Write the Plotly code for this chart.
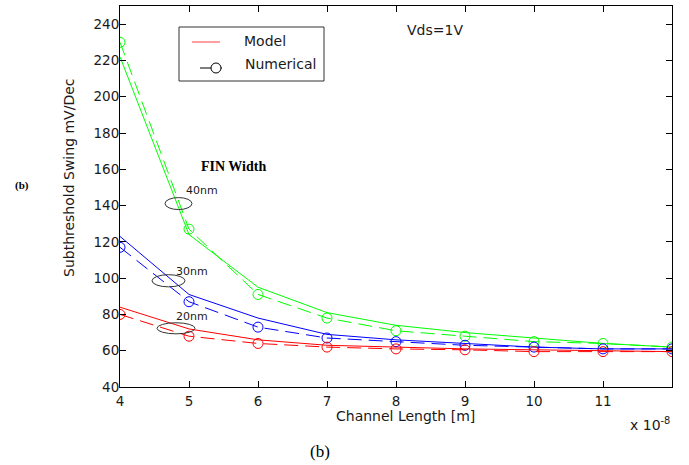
import plotly.graph_objects as go

# Channel length in units of 1e-8 m
channel_length = [4, 5, 6, 7, 8, 9, 10, 11, 12]

# Subthreshold swing (mV/Dec) for each fin width
model_40nm = [222, 124, 95, 81, 74, 70, 67, 64, 62]
numerical_40nm = [230, 127, 91, 78, 71, 68, 65, 64, 62]
model_30nm = [123, 91, 78, 69, 66, 64, 62, 61, 61]
numerical_30nm = [117, 87, 73, 67, 65, 63, 62, 61, 61]
model_20nm = [84, 72, 66, 63, 62, 61, 60.5, 60, 59.5]
numerical_20nm = [80, 68, 64, 62, 61, 60.5, 59.5, 59.5, 59.5]

x_ticks = [4, 5, 6, 7, 8, 9, 10, 11]
y_ticks = [40, 60, 80, 100, 120, 140, 160, 180, 200, 220, 240]

W, H = 689, 465
ML, MR, MT, MB = 120, 17, 6, 78
PW, PH = W - ML - MR, H - MT - MB


def px(xp):
    return (xp - ML) / PW


def py(yp):
    return (H - MB - yp) / PH


FONT = "DejaVu Sans"
TXT = "#1a1a1a"

fig = go.Figure()

series = [
    ("#00ff00", model_40nm, numerical_40nm),
    ("#0000ff", model_30nm, numerical_30nm),
    ("#ff0000", model_20nm, numerical_20nm),
]
for color, model, numerical in series:
    fig.add_trace(go.Scatter(
        x=channel_length, y=model, mode="lines",
        line=dict(color=color, width=1), showlegend=False,
    ))
    fig.add_trace(go.Scatter(
        x=channel_length, y=numerical, mode="lines+markers",
        line=dict(color=color, width=1, dash="14px,7px"),
        marker=dict(symbol="circle-open", size=10, color=color,
                    line=dict(width=1, color=color)),
        showlegend=False,
    ))

shapes = []
# ellipses marking each fin-width family
for x0, x1, y0, y1 in [(4.652, 5.043, 137.8, 144.4),
                       (4.464, 4.942, 95.2, 101.9),
                       (4.536, 5.087, 69.3, 75.4)]:
    shapes.append(dict(type="circle", xref="x", yref="y", x0=x0, x1=x1,
                       y0=y0, y1=y1, line=dict(color="#333333", width=1)))

# legend box and glyphs
shapes.append(dict(type="rect", xref="paper", yref="paper",
                   x0=px(179), x1=px(324), y0=py(81), y1=py(27),
                   line=dict(color="#333333", width=1), fillcolor="white"))
shapes.append(dict(type="line", xref="paper", yref="paper",
                   x0=px(192), x1=px(220), y0=py(42), y1=py(42),
                   line=dict(color="#ff4040", width=1)))
shapes.append(dict(type="line", xref="paper", yref="paper",
                   x0=px(200), x1=px(222), y0=py(68), y1=py(68),
                   line=dict(color="black", width=1)))
shapes.append(dict(type="circle", xref="paper", yref="paper",
                   x0=px(211), x1=px(221), y0=py(73), y1=py(63),
                   line=dict(color="black", width=1), fillcolor="white"))

annotations = [
    dict(x=px(242), y=py(41), text="Model", xanchor="left", yanchor="middle"),
    dict(x=px(243), y=py(64), text="Numerical", xanchor="left", yanchor="middle"),
    dict(x=px(435), y=py(30), text="Vds=1V", xanchor="center", yanchor="middle"),
    dict(x=px(202), y=py(191), text="40nm", font=dict(size=11)),
    dict(x=px(192), y=py(271), text="30nm", font=dict(size=11)),
    dict(x=px(192), y=py(316), text="20nm", font=dict(size=11)),
    dict(x=px(233), y=py(167), text="<b>FIN Width</b>",
         font=dict(family="Liberation Serif", size=14, color="black")),
    dict(x=px(22), y=py(185), text="<b>(b)</b>",
         font=dict(family="Liberation Serif", size=11, color="black")),
    dict(x=px(320), y=py(451), text="(b)",
         font=dict(family="Liberation Serif", size=17, color="black")),
    dict(x=px(69), y=py(178), text="Subthreshold Swing mV/Dec", textangle=-90),
    dict(x=px(405), y=py(416), text="Channel Length [m]"),
    dict(x=px(650), y=py(424), text="x 10<sup>-8</sup>"),
]
for a in annotations:
    a.setdefault("xref", "paper")
    a.setdefault("yref", "paper")
    a.setdefault("showarrow", False)
    a.setdefault("xanchor", "center")
    a.setdefault("yanchor", "middle")
    f = a.setdefault("font", {})
    f.setdefault("family", FONT)
    f.setdefault("size", 14)
    f.setdefault("color", TXT)

axis_common = dict(
    showline=True, linecolor="black", linewidth=1, mirror="ticks",
    ticks="inside", ticklen=6, tickcolor="black", tickwidth=1,
    showgrid=False, zeroline=False,
    tickfont=dict(family=FONT, size=13.5, color=TXT),
)

fig.update_layout(
    width=W, height=H,
    margin=dict(l=ML, r=MR, t=MT, b=MB, pad=0),
    paper_bgcolor="white", plot_bgcolor="white",
    xaxis=dict(range=[4, 12], tickvals=x_ticks, ticklabelstandoff=2,
               **axis_common),
    yaxis=dict(range=[40, 250], tickvals=y_ticks, ticklabelstandoff=-3,
               **axis_common),
    shapes=shapes, annotations=annotations, showlegend=False,
)

fig.write_html("out.html")
